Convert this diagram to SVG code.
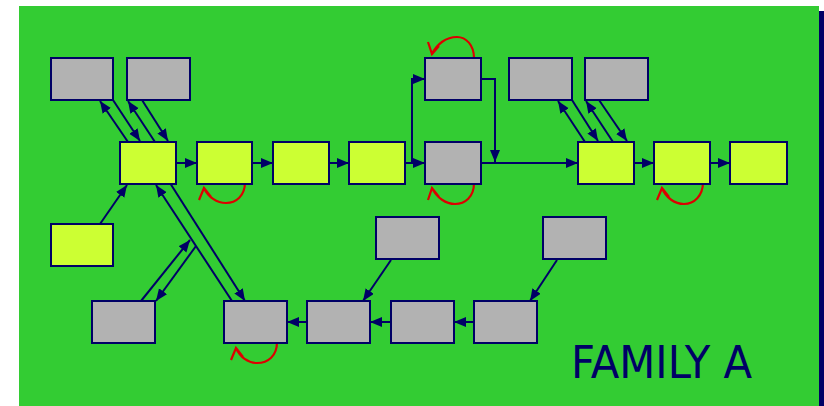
<svg xmlns="http://www.w3.org/2000/svg" width="824" height="406" viewBox="0 0 824 406">
<defs>
<marker id="ah" markerUnits="userSpaceOnUse" markerWidth="13" markerHeight="11" refX="12" refY="5" orient="auto">
<path d="M0,0 L12,5 L0,10 z" fill="#000066"/>
</marker>
<style>
.g{fill:#b2b2b2;stroke:#000066;stroke-width:2}
.y{fill:#ccff33;stroke:#000066;stroke-width:2}
.c{fill:none;stroke:#000066;stroke-width:2;marker-end:url(#ah)}
.r{fill:none;stroke:#dd0000;stroke-width:2.2;stroke-linejoin:miter}
</style>
</defs>
<rect x="0" y="0" width="824" height="406" fill="#ffffff"/>
<rect x="819" y="11" width="5" height="395" fill="#000066"/>
<rect x="19" y="6" width="800" height="400" fill="#33cc33"/>

<g id="connectors">
<line class="c" x1="128" y1="142" x2="100" y2="101"/>
<line class="c" x1="113" y1="100" x2="140" y2="141"/>
<line class="c" x1="155" y1="142" x2="128" y2="101"/>
<line class="c" x1="142" y1="100" x2="168" y2="141"/>
<line class="c" x1="585" y1="142" x2="558" y2="101"/>
<line class="c" x1="572" y1="100" x2="598" y2="141"/>
<line class="c" x1="613" y1="142" x2="586" y2="101"/>
<line class="c" x1="599" y1="100" x2="627" y2="141"/>
<line class="c" x1="176" y1="163" x2="197" y2="163"/>
<line class="c" x1="252" y1="163" x2="273" y2="163"/>
<line class="c" x1="329" y1="163" x2="349" y2="163"/>
<line class="c" x1="405" y1="163" x2="425" y2="163"/>
<path class="c" d="M412,163 V79 H425"/>
<path class="c" d="M481,79 H495 V162"/>
<line class="c" x1="481" y1="163" x2="578" y2="163"/>
<line class="c" x1="634" y1="163" x2="654" y2="163"/>
<line class="c" x1="710" y1="163" x2="730" y2="163"/>
<line class="c" x1="100" y1="224" x2="127" y2="185"/>
<line class="c" x1="232" y1="301" x2="156" y2="185"/>
<line class="c" x1="170" y1="183" x2="245" y2="301"/>
<line class="c" x1="141" y1="301" x2="190" y2="240"/>
<line class="c" x1="196" y1="246" x2="156" y2="301"/>
<line class="c" x1="474" y1="322" x2="454" y2="322"/>
<line class="c" x1="391" y1="322" x2="370" y2="322"/>
<line class="c" x1="307" y1="322" x2="287" y2="322"/>
<line class="c" x1="391" y1="260" x2="363" y2="301"/>
<line class="c" x1="557" y1="260" x2="530" y2="301"/>
<path class="r" d="M245,182 C245,196 236,203 226,203 C217,203 208,197 204,188 M199,200 L204,188 L211,197"/>
<path class="r" d="M474,58 C474,45 466,37 457,37 C446,37 437,44 432,54 M428,42 L432,54 L439,46"/>
<path class="r" d="M474,183 C474,197 465,204 455,204 C446,204 437,198 432,188 M428,200 L432,188 L439,197"/>
<path class="r" d="M277,342 C277,356 268,363 257,363 C248,363 240,357 236,348 M231,360 L236,348 L243,357"/>
<path class="r" d="M703,182 C703,196 694,204 684,204 C675,204 666,198 662,188 M657,200 L662,188 L669,197"/>
</g>

<g id="n1"><rect class="g" x="51" y="58" width="62" height="42"/></g>
<g id="n2"><rect class="g" x="127" y="58" width="63" height="42"/></g>
<g id="n3"><rect class="y" x="120" y="142" width="56" height="42"/></g>
<g id="n4"><rect class="y" x="197" y="142" width="55" height="42"/></g>
<g id="n5"><rect class="y" x="273" y="142" width="56" height="42"/></g>
<g id="n6"><rect class="y" x="349" y="142" width="56" height="42"/></g>
<g id="n7"><rect class="g" x="425" y="58" width="56" height="42"/></g>
<g id="n8"><rect class="g" x="425" y="142" width="56" height="42"/></g>
<g id="n9"><rect class="g" x="509" y="58" width="63" height="42"/></g>
<g id="n10"><rect class="g" x="585" y="58" width="63" height="42"/></g>
<g id="n11"><rect class="y" x="578" y="142" width="56" height="42"/></g>
<g id="n12"><rect class="y" x="654" y="142" width="56" height="42"/></g>
<g id="n13"><rect class="y" x="730" y="142" width="57" height="42"/></g>
<g id="n14"><rect class="y" x="51" y="224" width="62" height="42"/></g>
<g id="n15"><rect class="g" x="92" y="301" width="63" height="42"/></g>
<g id="n16"><rect class="g" x="224" y="301" width="63" height="42"/></g>
<g id="n17"><rect class="g" x="307" y="301" width="63" height="42"/></g>
<g id="n18"><rect class="g" x="391" y="301" width="63" height="42"/></g>
<g id="n19"><rect class="g" x="474" y="301" width="63" height="42"/></g>
<g id="n20"><rect class="g" x="376" y="217" width="63" height="42"/></g>
<g id="n21"><rect class="g" x="543" y="217" width="63" height="42"/></g>

<g id="title"><text x="571" y="378" font-family="'DejaVu Sans Condensed','DejaVu Sans',sans-serif" font-stretch="condensed" font-size="44" fill="#000066" textLength="181" lengthAdjust="spacingAndGlyphs">FAMILY A</text></g>
</svg>
